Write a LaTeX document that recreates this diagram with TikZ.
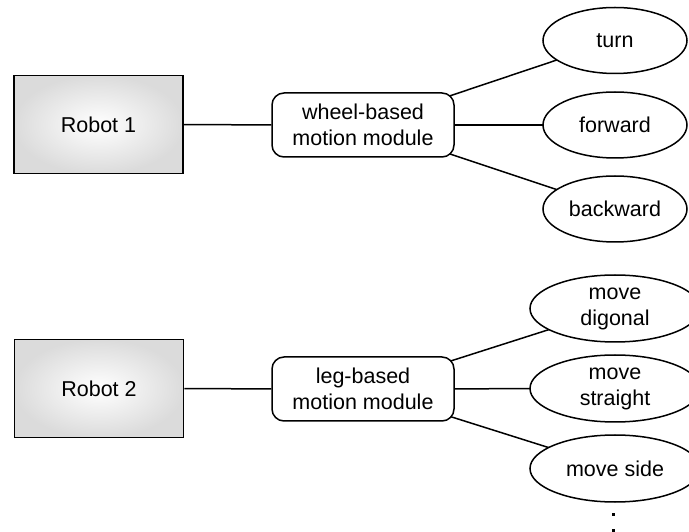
\documentclass[tikz,border=0pt]{standalone}
\usepackage{fontspec}
\setmainfont{Liberation Sans}
\usetikzlibrary{shapes.geometric,backgrounds}
\begin{document}
\begin{tikzpicture}[x=1pt,y=1pt,
  every node/.style={font=\fontsize{21.5}{26}\selectfont, align=center, inner sep=0pt},
  robot/.style={draw, line width=1.6pt, rectangle, shading=radial,
    inner color=white, outer color=black!14, minimum width=169pt, minimum height=98pt},
  module/.style={draw, line width=1.5pt, rectangle, rounded corners=12pt, fill=white,
    minimum width=182pt, minimum height=64pt},
  action/.style={draw, line width=1.5pt, ellipse, fill=white,
    minimum width=144pt, minimum height=66pt},
  wideaction/.style={action, minimum width=170pt, minimum height=67pt},
  link/.style={line width=1.5pt},
  dot/.style={fill=black, inner sep=0pt, minimum size=3pt, rectangle}]
\useasboundingbox (0,0) rectangle (689,531);

% first robot with its wheel-based actions
\node[robot]  (r1) at (98.5,406.5) {Robot 1};
\node[module] (m1) at (363,406) {wheel-based\\motion module};
\node[action] (turn) at (615,490.5) {turn};
\node[action] (fwd)  at (615,406) {forward};
\node[action] (bwd)  at (615,322) {backward};

% second robot with its leg-based actions
\node[robot]  (r2) at (99,142.5) {Robot 2};
\node[module] (m2) at (363,142) {leg-based\\motion module};
\node[wideaction] (diag) at (615,222.5) {move\\digonal};
\node[wideaction] (str)  at (615,142.5) {move\\straight};
\node[wideaction] (side) at (615,62.5) {move side};

% continuation marks
\node[dot] (d1) at (613.5,17) {};
\node[dot] (d2) at (613.5,0.5) {};

% connectors run centre to centre behind the white-filled shapes,
% so they stop exactly at the rounded outlines
\begin{pgfonlayer}{background}
\draw[link] (r1) -- (m1);
\draw[link] (m1.center) -- (turn.center);
\draw[link] (m1.center) -- (fwd.center);
\draw[link] (m1.center) -- (bwd.center);

\draw[link] (r2) -- (m2);
\draw[link] (m2.center) -- (diag.center);
\draw[link] (m2.center) -- (str.center);
\draw[link] (m2.center) -- (side.center);
\end{pgfonlayer}
\end{tikzpicture}
\end{document}
